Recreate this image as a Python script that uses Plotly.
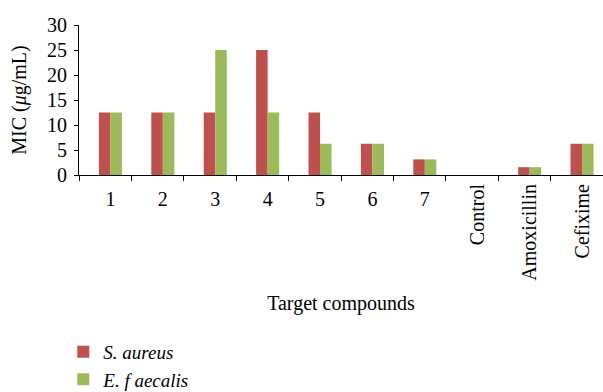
import plotly.graph_objects as go

categories = ["1", "2", "3", "4", "5", "6", "7", "Control", "Amoxicillin", "Cefixime"]
s_aureus = [12.5, 12.5, 12.5, 25, 12.5, 6.25, 3.125, 0, 1.5625, 6.25]
e_faecalis = [12.5, 12.5, 25, 12.5, 6.25, 6.25, 3.125, 0, 1.5625, 6.25]
y_ticks = [0, 5, 10, 15, 20, 25, 30]

FONT = "Liberation Serif"
pos = list(range(len(categories)))
n_num = 7  # numeric labels drawn horizontally, rest rotated

fig = go.Figure()
fig.add_trace(go.Bar(x=pos, y=s_aureus, name="<i>S. aureus</i>",
                     marker=dict(color="#C0504D", line=dict(width=0))))
fig.add_trace(go.Bar(x=pos, y=e_faecalis, name="<i>E. f aecalis</i>",
                     marker=dict(color="#9BBB59", line=dict(width=0))))
# invisible helper for the rotated-label axis
fig.add_trace(go.Scatter(x=pos[n_num:], y=[0] * (len(pos) - n_num), xaxis="x2",
                         mode="markers", marker=dict(opacity=0), showlegend=False,
                         hoverinfo="skip"))

rng = [-0.6, len(categories) - 0.6]
fig.update_layout(
    width=603, height=392,
    margin=dict(l=79, r=0, t=25, b=217, autoexpand=False),
    paper_bgcolor="white", plot_bgcolor="white",
    font=dict(family=FONT, size=20, color="black"),
    barmode="group", bargap=0.56, bargroupgap=0,
    showlegend=True,
    legend=dict(x=-0.03, y=-1.052, xanchor="left", yanchor="top",
                font=dict(family=FONT, size=19), tracegroupgap=0,
                bgcolor="rgba(0,0,0,0)"),
    xaxis=dict(range=rng, tickmode="array", tickvals=pos[:n_num], ticktext=categories[:n_num],
               tickangle=0, ticks="", showline=True, linecolor="black", linewidth=1,
               showgrid=False, zeroline=False, automargin=False, ticklabelstandoff=6,
               minor=dict(ticks="outside", tick0=rng[0], dtick=1, ticklen=5,
                          tickcolor="black", showgrid=False),
               title=dict(text="Target compounds", standoff=86, font=dict(size=20))),
    xaxis2=dict(range=rng, overlaying="x", side="bottom", anchor="y", tickmode="array",
                tickvals=pos[n_num:], ticktext=categories[n_num:], tickangle=-90,
                ticks="", showline=False, showgrid=False, zeroline=False, automargin=False,
                ticklabelstandoff=4),
    yaxis=dict(range=[0, 30], tickmode="array", tickvals=y_ticks, ticks="outside",
               ticklen=4, tickcolor="black", showline=True, linecolor="black", linewidth=1,
               showgrid=False, zeroline=False, automargin=False, ticklabelstandoff=3,
               title=dict(text="MIC (<i>μ</i>g/mL)", standoff=15, font=dict(size=20))),
)
fig.write_html("out.html", config={"displayModeBar": False},
               post_script="document.body.style.margin='0';document.body.style.overflow='hidden';")
